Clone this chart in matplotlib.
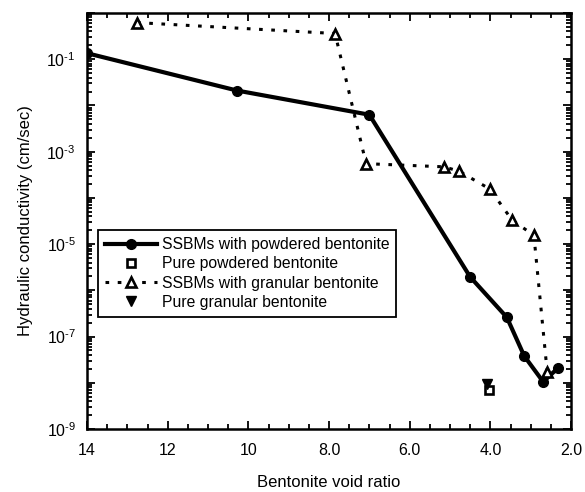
import matplotlib
matplotlib.use("Agg")
import matplotlib.pyplot as plt
from matplotlib.ticker import FixedLocator, FixedFormatter, LogLocator, NullFormatter, MultipleLocator

plt.rcParams['font.family'] = ['Liberation Sans', 'DejaVu Sans']
plt.rcParams['mathtext.fontset'] = 'custom'
plt.rcParams['mathtext.rm'] = 'Liberation Sans'
plt.rcParams['mathtext.it'] = 'Liberation Sans'

# Data
powder_e = [14.0, 10.28, 7.0, 4.5, 3.59, 3.16, 2.69, 2.32]
powder_k = [0.135, 0.021, 0.0063, 1.95e-6, 2.6e-7, 3.8e-8, 1.05e-8, 2.1e-8]
granular_e = [12.76, 7.85, 7.08, 5.15, 4.78, 4.01, 3.46, 2.92, 2.59]
granular_k = [0.62, 0.36, 5.5e-4, 4.7e-4, 3.8e-4, 1.55e-4, 3.3e-5, 1.55e-5, 1.7e-8]
pure_powder_e = [4.03]
pure_powder_k = [7.0e-9]
pure_granular_e = [4.08]
pure_granular_k = [9.3e-9]

x_ticks = [14, 12, 10, 8, 6, 4, 2]
x_labels = ["14", "12", "10", "8.0", "6.0", "4.0", "2.0"]

fig = plt.figure(figsize=(5.85, 4.92), dpi=100)
ax = fig.add_axes([87/585, 1-429/492, (571-87)/585, (429-13)/492])

ax.plot(powder_e, powder_k, '-', color='black', lw=3.0, marker='o', ms=7,
        label='SSBMs with powdered bentonite', zorder=3)
ax.plot(pure_powder_e, pure_powder_k, ls='none', marker='s', ms=5.5, mfc='white',
        mec='black', mew=1.9, label='Pure powdered bentonite', zorder=4)
ax.plot(granular_e, granular_k, color='black', lw=2.2, ls=(0, (1.2, 2.8)),
        marker='^', ms=6.5, mfc='white', mec='black', mew=1.9,
        label='SSBMs with granular bentonite', zorder=3)
ax.plot(pure_granular_e, pure_granular_k, ls='none', marker='v', ms=7, color='black',
        label='Pure granular bentonite', zorder=4)

ax.set_yscale('log')
ax.set_xlim(14, 2)
ax.set_ylim(1e-9, 1)

ax.xaxis.set_major_locator(FixedLocator(x_ticks))
ax.xaxis.set_major_formatter(FixedFormatter(x_labels))
ax.xaxis.set_minor_locator(MultipleLocator(0.5))

decades = [10.0**e for e in range(-9, 1)]
ylabels = []
for e in range(-9, 1):
    ylabels.append(r'$10^{\text{-}%d}$' % (-e) if e % 2 != 0 else '')
ax.yaxis.set_major_locator(FixedLocator(decades))
ax.yaxis.set_major_formatter(FixedFormatter(ylabels))
ax.yaxis.set_minor_locator(LogLocator(base=10, subs=range(2, 10), numticks=20))
ax.yaxis.set_minor_formatter(NullFormatter())

ax.tick_params(which='both', direction='in', top=True, right=True, width=1.3,
               labelsize=11.5, colors='black')
ax.tick_params(which='major', length=6, pad=8)
ax.tick_params(which='minor', length=3.5)
ax.tick_params(axis='x', which='major', pad=10)

for s in ax.spines.values():
    s.set_linewidth(1.8)

ax.set_xlabel('Bentonite void ratio', fontsize=12, labelpad=12)
ax.set_ylabel('Hydraulic conductivity (cm/sec)', fontsize=12, labelpad=10)

leg = ax.legend(loc='upper left', bbox_to_anchor=(11/484, (429-230)/416),
                borderaxespad=0, fontsize=11.3, frameon=True, fancybox=False,
                edgecolor='black', handlelength=3.3, handletextpad=0.3,
                labelspacing=0.27, borderpad=0.45, numpoints=1)
leg.get_frame().set_linewidth(1.3)
leg.get_frame().set_alpha(1)

fig.savefig('out.png', dpi=100)
